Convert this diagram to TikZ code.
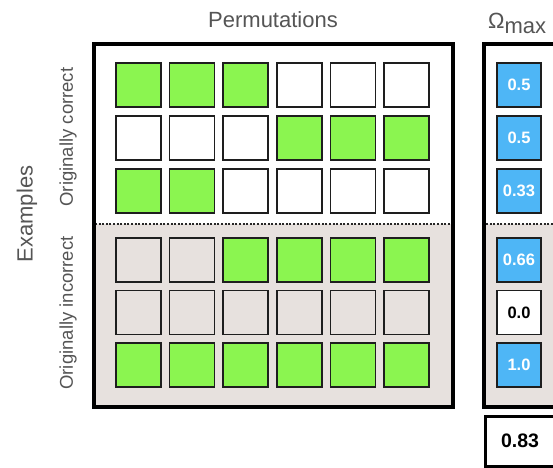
\documentclass[tikz,border=0pt]{standalone}
\usepackage{fontspec}
\setmainfont{Liberation Sans}
\definecolor{cellgreen}{RGB}{139,245,80}
\definecolor{panelbg}{RGB}{231,225,222}
\definecolor{scoreblue}{RGB}{78,182,246}
\definecolor{cellline}{RGB}{30,30,30}
\definecolor{labelgrey}{RGB}{85,85,85}
\begin{document}
\begin{tikzpicture}[x=1pt,y=-1pt,
  cell/.style={draw=cellline, line width=1.6pt, minimum width=45pt, minimum height=44pt,
    anchor=north west, inner sep=0pt, outer sep=0pt},
  g/.style={cell, fill=cellgreen},
  w/.style={cell, fill=white},
  b/.style={cell, fill=panelbg},
  score/.style={cell, minimum width=44pt, fill=scoreblue, text=white,
    font=\fontsize{16.5}{19}\selectfont\bfseries},
  scorew/.style={cell, minimum width=44pt, fill=white, text=black,
    font=\fontsize{16.5}{19}\selectfont\bfseries},
  title/.style={text=labelgrey, inner sep=0pt, font=\fontsize{22}{26}\selectfont},
  side/.style={text=labelgrey, inner sep=0pt, rotate=90, font=\fontsize{18.5}{22}\selectfont},
  panel/.style={draw=black, line width=3.5pt},
  sep/.style={draw=black!85, line width=2.4pt, dash pattern=on 2pt off 1.6pt}
]
\useasboundingbox (0,0) rectangle (553,467);
\clip (0,0) rectangle (553,467);
\fill[white] (0,0) rectangle (553,467);

% panels
\fill[panelbg] (94,224) rectangle (453,407);
\fill[panelbg] (484,224) rectangle (575,407);
\draw[sep] (95,224) -- (452,224);
\draw[sep] (486,224) -- (575,224);
\draw[panel] (94,44) rectangle (453,407);
\draw[panel] (484,44) rectangle (575,407);

% cells
\def\colx{{116,169.6,223.2,276.8,330.4,384}}
\def\rowy{{63,116,169,238,290.5,343}}
\foreach \st [count=\i from 0] in {g,g,g,w,w,w}
  \node[\st] (r1c\i) at ({\colx[\i]},{\rowy[0]}) {};
\foreach \st [count=\i from 0] in {w,w,w,g,g,g}
  \node[\st] (r2c\i) at ({\colx[\i]},{\rowy[1]}) {};
\foreach \st [count=\i from 0] in {g,g,w,w,w,w}
  \node[\st] (r3c\i) at ({\colx[\i]},{\rowy[2]}) {};
\foreach \st [count=\i from 0] in {b,b,g,g,g,g}
  \node[\st] (r4c\i) at ({\colx[\i]},{\rowy[3]}) {};
\foreach \st [count=\i from 0] in {b,b,b,b,b,b}
  \node[\st] (r5c\i) at ({\colx[\i]},{\rowy[4]}) {};
\foreach \st [count=\i from 0] in {g,g,g,g,g,g}
  \node[\st] (r6c\i) at ({\colx[\i]},{\rowy[5]}) {};

% scores
\node[score] (s1) at (497,63) {0.5};
\node[score] (s2) at (497,116) {0.5};
\node[score] (s3) at (497,169) {0.33};
\node[score] (s4) at (497,238) {0.66};
\node[scorew] (s5) at (497,290.5) {0.0};
\node[score] (s6) at (497,343) {1.0};

% total
\draw[line width=3pt] (485,416) rectangle (575,466);
\node[inner sep=0pt, font=\fontsize{19.5}{22}\selectfont\bfseries] (tot) at (520,441) {0.83};

% labels
\node[title] (perm) at (273,20) {Permutations};
\node[title, anchor=base west] (omega) at (488,28) {Ω\raisebox{-5pt}{max}};
\node[title, rotate=90] (ex) at (27,214) {Examples};
\node[side] (oc) at (68,137) {Originally correct};
\node[side] (oi) at (68,313) {Originally incorrect};
\end{tikzpicture}
\end{document}
